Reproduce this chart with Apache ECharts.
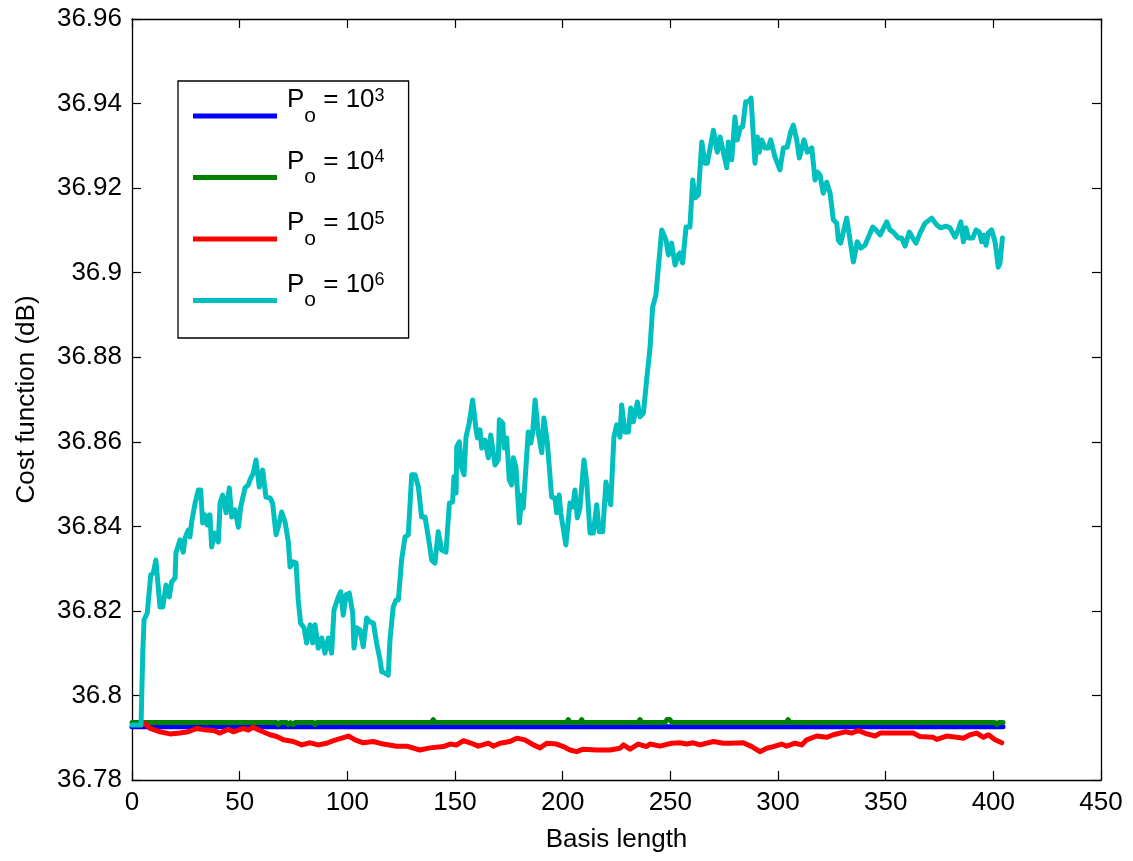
<!DOCTYPE html>
<html>
<head>
<meta charset="utf-8">
<script src="https://cdn.jsdelivr.net/npm/echarts@6/dist/echarts.min.js"></script>
<style>
  html, body { margin: 0; padding: 0; background: #fff; }
  #chart { width: 1133px; height: 861px; }
</style>
</head>
<body>
<div id="chart"></div>
<script>
// ---- data ----
const seriesNames = ['P_o = 10^3', 'P_o = 10^4', 'P_o = 10^5', 'P_o = 10^6'];
const legendExponents = ['3', '4', '5', '6'];
const seriesColors = ['#0000FF', '#008000', '#FF0000', '#00BFBF'];

const xTicks = { min: 0, max: 450, interval: 50 };
const yTicks = { min: 36.78, max: 36.96, interval: 0.02 };

const blueData = [[0, 36.7926], [404.5, 36.7926]];

const greenData = [[0, 36.7936], [67.0, 36.7936], [67.9, 36.7931], [68.8, 36.7936], [71.8, 36.7936], [72.6, 36.7931], [73.6, 36.7936],
  [74.2, 36.7936], [74.9, 36.7931], [75.7, 36.7936], [84.2, 36.7936], [85.0, 36.7931], [85.8, 36.7936],
  [139.0, 36.7936], [139.9, 36.7943], [140.8, 36.7936], [201.7, 36.7936], [202.6, 36.7943], [203.5, 36.7936],
  [207.9, 36.7936], [208.8, 36.7943], [209.7, 36.7936], [235.0, 36.7936], [235.9, 36.7943], [236.8, 36.7936],
  [247.6, 36.7936], [248.5, 36.7943], [249.8, 36.7943], [250.7, 36.7936], [303.8, 36.7936], [304.7, 36.7943],
  [305.6, 36.7936], [400.7, 36.7936], [401.6, 36.7931], [402.5, 36.7936], [404.5, 36.7936]];

const redData = [[4.5, 36.7930], [6.0, 36.7934], [8.4, 36.7922], [13.0, 36.7914], [17.6, 36.7909], [22.3, 36.7911], [26.1, 36.7914],
  [30.0, 36.7922], [34.7, 36.7918], [37.8, 36.7917], [40.9, 36.7911], [44.7, 36.7920], [47.0, 36.7914], [51.7, 36.7922],
  [54.0, 36.7918], [56.3, 36.7925], [59.4, 36.7917], [64.1, 36.7907], [67.2, 36.7903], [70.3, 36.7895], [74.9, 36.7891],
  [78.8, 36.7883], [82.7, 36.7888], [86.5, 36.7883], [90.4, 36.7887], [93.5, 36.7893], [97.4, 36.7899], [100.5, 36.7904],
  [103.6, 36.7895], [107.4, 36.7888], [112.1, 36.7891], [116.7, 36.7885], [122.9, 36.7880], [127.6, 36.7880], [133.7, 36.7871],
  [138.4, 36.7876], [144.6, 36.7879], [147.7, 36.7885], [150.8, 36.7883], [153.9, 36.7893], [157.0, 36.7888], [160.8, 36.7880],
  [165.5, 36.7887], [167.8, 36.7880], [170.9, 36.7887], [175.5, 36.7891], [178.7, 36.7899], [182.5, 36.7895], [186.4, 36.7883],
  [189.5, 36.7876], [192.6, 36.7887], [197.2, 36.7885], [200.3, 36.7879], [203.4, 36.7871], [206.5, 36.7867], [209.6, 36.7873],
  [215.8, 36.7871], [222.0, 36.7871], [226.6, 36.7875], [228.2, 36.7883], [231.3, 36.7873], [235.1, 36.7885], [239.0, 36.7879],
  [240.6, 36.7885], [245.2, 36.7880], [247.5, 36.7883], [250.6, 36.7887], [254.5, 36.7888], [257.6, 36.7885], [260.7, 36.7888],
  [263.8, 36.7883], [270.0, 36.7891], [274.6, 36.7887], [277.7, 36.7887], [283.9, 36.7888], [287.8, 36.7879], [291.6, 36.7867],
  [294.8, 36.7875], [297.8, 36.7879], [301.7, 36.7885], [304.0, 36.7880], [307.9, 36.7887], [311.0, 36.7883], [313.3, 36.7895],
  [318.0, 36.7904], [322.6, 36.7901], [325.7, 36.7907], [331.1, 36.7914], [334.2, 36.7911], [337.3, 36.7917], [341.2, 36.7909],
  [345.1, 36.7904], [347.4, 36.7911], [356.7, 36.7911], [362.8, 36.7911], [365.9, 36.7903], [372.1, 36.7901], [373.7, 36.7896],
  [378.3, 36.7904], [383.0, 36.7901], [386.1, 36.7899], [389.2, 36.7907], [392.3, 36.7911], [395.4, 36.7901], [397.7, 36.7907],
  [400.8, 36.7895], [403.9, 36.7888]];

const cyanData = [[0, 36.7930], [4.2, 36.7930], [5.0, 36.8100], [5.6, 36.8179], [7.1, 36.8195], [8.7, 36.8285], [9.9, 36.8290],
  [11.1, 36.8320], [13.0, 36.8209], [14.3, 36.8209], [15.8, 36.8261], [17.3, 36.8233], [18.4, 36.8268], [20.0, 36.8278],
  [20.4, 36.8337], [22.3, 36.8368], [23.8, 36.8339], [24.6, 36.8372], [26.1, 36.8391], [26.9, 36.8375], [27.7, 36.8410],
  [29.3, 36.8455], [30.8, 36.8486], [31.9, 36.8486], [32.8, 36.8408], [33.9, 36.8427], [35.0, 36.8403], [36.2, 36.8427],
  [37.0, 36.8351], [38.5, 36.8384], [40.1, 36.8363], [40.9, 36.8455], [42.1, 36.8474], [43.7, 36.8432], [45.2, 36.8491],
  [46.3, 36.8422], [47.8, 36.8439], [49.4, 36.8398], [50.5, 36.8446], [52.5, 36.8491], [54.0, 36.8498], [54.8, 36.8510],
  [56.3, 36.8526], [57.6, 36.8557], [59.1, 36.8493], [60.7, 36.8533], [62.2, 36.8469], [64.1, 36.8467], [65.3, 36.8455],
  [66.9, 36.8380], [67.9, 36.8398], [69.5, 36.8434], [71.1, 36.8410], [72.6, 36.8363], [73.4, 36.8304], [74.9, 36.8316],
  [76.2, 36.8313], [77.2, 36.8226], [78.3, 36.8171], [79.9, 36.8160], [81.1, 36.8124], [82.7, 36.8167], [83.9, 36.8124],
  [85.0, 36.8167], [86.5, 36.8112], [88.1, 36.8136], [89.6, 36.8100], [91.2, 36.8136], [92.7, 36.8100], [93.8, 36.8202],
  [95.8, 36.8233], [96.9, 36.8245], [98.1, 36.8190], [99.4, 36.8238], [100.9, 36.8242], [102.5, 36.8195], [103.1, 36.8112],
  [104.3, 36.8160], [105.9, 36.8155], [107.4, 36.8115], [109.0, 36.8183], [110.5, 36.8174], [112.1, 36.8171], [113.6, 36.8124],
  [115.2, 36.8084], [116.0, 36.8056], [117.5, 36.8053], [119.0, 36.8048], [119.8, 36.8131], [121.3, 36.8209], [122.6, 36.8226],
  [123.7, 36.8226], [125.2, 36.8320], [126.8, 36.8375], [128.3, 36.8380], [129.9, 36.8522], [131.4, 36.8522], [133.0, 36.8493],
  [134.5, 36.8422], [136.1, 36.8422], [137.6, 36.8375], [139.2, 36.8320], [140.7, 36.8313], [142.2, 36.8387], [143.8, 36.8344],
  [145.8, 36.8339], [147.4, 36.8455], [148.9, 36.8458], [149.5, 36.8517], [150.5, 36.8479], [150.8, 36.8588], [152.0, 36.8600],
  [153.1, 36.8538], [154.2, 36.8522], [155.1, 36.8611], [156.6, 36.8644], [158.2, 36.8699], [159.8, 36.8628], [160.4, 36.8609],
  [161.6, 36.8628], [162.4, 36.8585], [163.9, 36.8604], [165.5, 36.8562], [166.6, 36.8616], [168.6, 36.8545], [170.1, 36.8557],
  [170.6, 36.8652], [172.2, 36.8644], [172.8, 36.8585], [174.0, 36.8609], [175.2, 36.8510], [176.3, 36.8498], [177.1, 36.8562],
  [178.3, 36.8540], [179.9, 36.8408], [181.0, 36.8474], [181.7, 36.8443], [184.0, 36.8623], [185.2, 36.8597], [186.1, 36.8623],
  [187.2, 36.8699], [188.7, 36.8621], [190.3, 36.8574], [191.3, 36.8656], [192.9, 36.8597], [194.9, 36.8469], [196.4, 36.8467],
  [197.2, 36.8432], [198.4, 36.8474], [199.1, 36.8432], [201.5, 36.8356], [203.4, 36.8455], [204.7, 36.8446], [205.7, 36.8486],
  [206.8, 36.8420], [208.0, 36.8443], [209.9, 36.8557], [211.2, 36.8503], [212.7, 36.8384], [214.2, 36.8384], [215.8, 36.8451],
  [217.0, 36.8387], [218.6, 36.8387], [220.1, 36.8505], [221.2, 36.8474], [222.3, 36.8451], [223.8, 36.8611], [225.1, 36.8640],
  [226.6, 36.8611], [227.4, 36.8687], [228.9, 36.8623], [230.5, 36.8623], [231.6, 36.8680], [232.8, 36.8647], [234.7, 36.8694],
  [235.9, 36.8659], [237.5, 36.8668], [239.0, 36.8746], [240.6, 36.8824], [241.8, 36.8919], [243.3, 36.8947], [246.0, 36.9101],
  [248.0, 36.9077], [249.1, 36.9042], [250.6, 36.9070], [252.2, 36.9018], [253.7, 36.9042], [254.5, 36.9047], [255.7, 36.9023],
  [257.3, 36.9108], [259.1, 36.9108], [260.4, 36.9219], [261.5, 36.9177], [263.0, 36.9184], [264.6, 36.9309], [266.1, 36.9259],
  [267.2, 36.9259], [270.0, 36.9337], [271.8, 36.9285], [273.1, 36.9321], [276.2, 36.9248], [276.9, 36.9309], [278.5, 36.9267],
  [280.0, 36.9368], [281.1, 36.9314], [282.4, 36.9342], [283.6, 36.9345], [285.0, 36.9404], [286.2, 36.9404], [287.5, 36.9413],
  [289.3, 36.9259], [290.4, 36.9321], [291.3, 36.9285], [292.4, 36.9314], [294.0, 36.9295], [295.5, 36.9295], [296.6, 36.9314],
  [298.6, 36.9274], [300.9, 36.9243], [302.5, 36.9295], [304.3, 36.9297], [305.9, 36.9333], [307.1, 36.9349], [308.7, 36.9314],
  [309.9, 36.9271], [312.1, 36.9314], [313.6, 36.9285], [315.7, 36.9295], [317.2, 36.9219], [318.3, 36.9238], [319.5, 36.9231],
  [321.0, 36.9188], [322.6, 36.9214], [324.2, 36.9188], [325.7, 36.9125], [327.3, 36.9117], [328.0, 36.9077], [329.1, 36.9070],
  [331.9, 36.9129], [335.0, 36.9025], [336.8, 36.9073], [338.4, 36.9058], [340.4, 36.9065], [344.0, 36.9108], [345.5, 36.9101],
  [347.4, 36.9089], [350.5, 36.9120], [352.0, 36.9101], [353.5, 36.9096], [355.9, 36.9082], [357.4, 36.9082], [359.0, 36.9063],
  [361.0, 36.9096], [362.6, 36.9082], [364.1, 36.9070], [366.0, 36.9094], [368.3, 36.9117], [371.4, 36.9129], [373.7, 36.9113],
  [375.6, 36.9106], [378.0, 36.9110], [379.9, 36.9106], [382.2, 36.9084], [383.7, 36.9101], [384.9, 36.9120], [386.1, 36.9073],
  [387.3, 36.9106], [388.4, 36.9082], [390.4, 36.9082], [392.0, 36.9101], [393.5, 36.9096], [394.6, 36.9073], [395.7, 36.9089],
  [396.6, 36.9065], [397.7, 36.9094], [399.2, 36.9101], [400.8, 36.9073], [402.3, 36.9013], [403.1, 36.9023], [404.2, 36.9082]];

const allData = [blueData, greenData, redData, cyanData];

// ---- chart ----
const FONT = "'Liberation Sans', Arial, sans-serif";
const chart = echarts.init(document.getElementById('chart'), null, { renderer: 'canvas' });

function axisCommon(show) {
  return {
    axisLine: { show: true, onZero: false, lineStyle: { color: '#000', width: 1.3 } },
    axisTick: { show: true, inside: true, length: 9, lineStyle: { color: '#000', width: 1.2 } },
    splitLine: { show: false },
    axisLabel: { show: show, color: '#000', fontSize: 26, fontFamily: FONT, margin: 10 }
  };
}

const option = {
  animation: false,
  backgroundColor: '#fff',
  grid: { left: 132, right: 32, top: 19, bottom: 81, containLabel: false },
  xAxis: [
    Object.assign({ type: 'value', position: 'bottom', min: xTicks.min, max: xTicks.max, interval: xTicks.interval,
      name: 'Basis length', nameLocation: 'middle', nameGap: 47,
      nameTextStyle: { color: '#000', fontSize: 26, fontFamily: FONT } }, axisCommon(true)),
    Object.assign({ type: 'value', position: 'top', min: xTicks.min, max: xTicks.max, interval: xTicks.interval }, axisCommon(false))
  ],
  yAxis: [
    Object.assign({ type: 'value', position: 'left', min: yTicks.min, max: yTicks.max, interval: yTicks.interval,
      name: 'Cost function (dB)', nameLocation: 'middle', nameGap: 92,
      nameTextStyle: { color: '#000', fontSize: 26, fontFamily: FONT } }, axisCommon(true)),
    Object.assign({ type: 'value', position: 'right', min: yTicks.min, max: yTicks.max, interval: yTicks.interval }, axisCommon(false))
  ],
  legend: {
    orient: 'vertical',
    left: 178, top: 81,
    padding: [6, 24, 27, 15],
    itemGap: 22,
    itemWidth: 84, itemHeight: 5,
    icon: 'rect',
    backgroundColor: '#fff',
    borderColor: '#000', borderWidth: 1.3,
    data: seriesNames,
    formatter: function (name) {
      const i = seriesNames.indexOf(name);
      return '{p|P}{sub|o}{p| = 10}{sup|' + legendExponents[i] + '}';
    },
    textStyle: {
      color: '#000', fontFamily: FONT, padding: [0, 0, 0, 5],
      rich: {
        p: { fontSize: 26, fontFamily: FONT, color: '#000', lineHeight: 36, verticalAlign: 'top' },
        sub: { fontSize: 21, fontFamily: FONT, color: '#000', lineHeight: 58, verticalAlign: 'middle' },
        sup: { fontSize: 18, fontFamily: FONT, color: '#000', lineHeight: 14, verticalAlign: 'top' }
      }
    }
  },
  series: seriesNames.map((n, i) => ({
    name: n,
    type: 'line',
    xAxisIndex: 0, yAxisIndex: 0,
    data: allData[i],
    showSymbol: false,
    symbol: 'none',
    color: seriesColors[i],
    lineStyle: { color: seriesColors[i], width: 5, cap: 'round', join: 'round' },
    z: 2 + i
  }))
};

chart.setOption(option);
</script>
</body>
</html>
